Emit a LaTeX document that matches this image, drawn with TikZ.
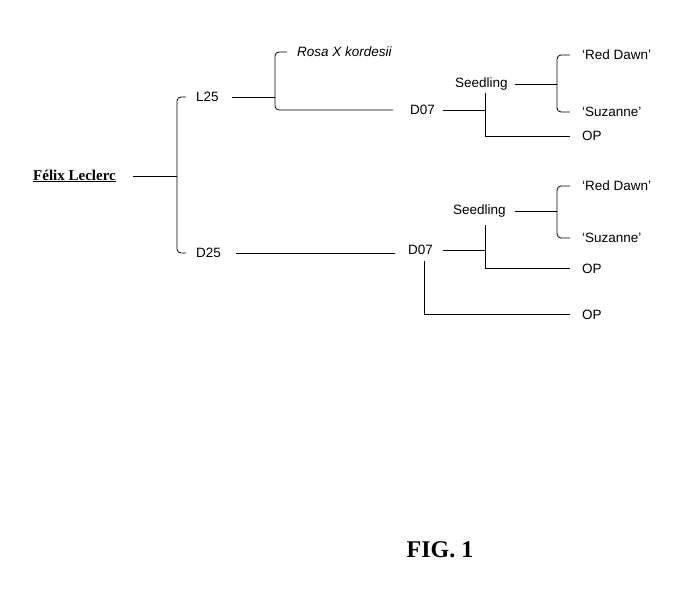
\documentclass[tikz,border=0pt]{standalone}
\usepackage{fontspec}
\setmainfont{Liberation Sans}
\newfontfamily\serifx{Liberation Serif}
\begin{document}
\begin{tikzpicture}[x=1pt,y=-1pt,
  lab/.style={anchor=west,inner sep=0pt,font=\fontsize{13.5}{15}\selectfont},
  ln/.style={line width=0.8pt},
  br/.style={line width=0.8pt,rounded corners=4pt}]
\useasboundingbox (0,0) rectangle (700,596);
% texts
\node[anchor=west,inner sep=0pt,font=\serifx\bfseries\fontsize{15}{16}\selectfont] (FL) at (33,176) {\underline{Félix Leclerc}};
\node[lab] (L25) at (196,97) {L25};
\node[lab] (D25) at (196,253) {D25};
\node[lab] (RK) at (297,52) {\itshape Rosa X kordesii};
\node[lab] (D07a) at (410,110) {D07};
\node[lab] (S1) at (455,84) {Seedling};
\node[lab] (RD1) at (582,55) {`Red Dawn'};
\node[lab] (SU1) at (582,112) {`Suzanne'};
\node[lab] (OP1) at (582,136) {OP};
\node[lab] (D07b) at (408,250) {D07};
\node[lab] (S2) at (453,211) {Seedling};
\node[lab] (RD2) at (582,186) {`Red Dawn'};
\node[lab] (SU2) at (582,238) {`Suzanne'};
\node[lab] (OP2) at (582,269) {OP};
\node[lab] (OP3) at (582,315) {OP};
\node[anchor=center,inner sep=0pt,font=\serifx\bfseries\fontsize{24}{26}\selectfont] (FIG) at (440,550) {FIG. 1};
% connectors
\draw[ln] (133,176) -- (177,176);
\draw[br] ([xshift=-10pt]L25.west) -- (177,97) -- (177,253) -- ([xshift=-10pt]D25.west);
\draw[ln] (232,97) -- (275,97);
\draw[br] ([xshift=-10pt]RK.west) -- (275,52) -- (275,110) -- (393,110);
\draw[ln] (443,110) -- (485,110);
\draw[ln] (485,93) -- (485,136) -- (570,136);
\draw[ln] (515,84) -- (557,84);
\draw[br] ([xshift=-12pt]RD1.west) -- (557,55) -- (557,112) -- ([xshift=-12pt]SU1.west);
\draw[ln] (236,253) -- (395,253);
\draw[ln] (443,250) -- (485,250);
\draw[ln] (485,225) -- (485,268) -- (570,268);
\draw[ln] (515,211) -- (557,211);
\draw[br] ([xshift=-12pt]RD2.west) -- (557,186) -- (557,238) -- ([xshift=-12pt]SU2.west);
\draw[ln] (424,261) -- (424,314) -- (570,314);
\end{tikzpicture}
\end{document}
